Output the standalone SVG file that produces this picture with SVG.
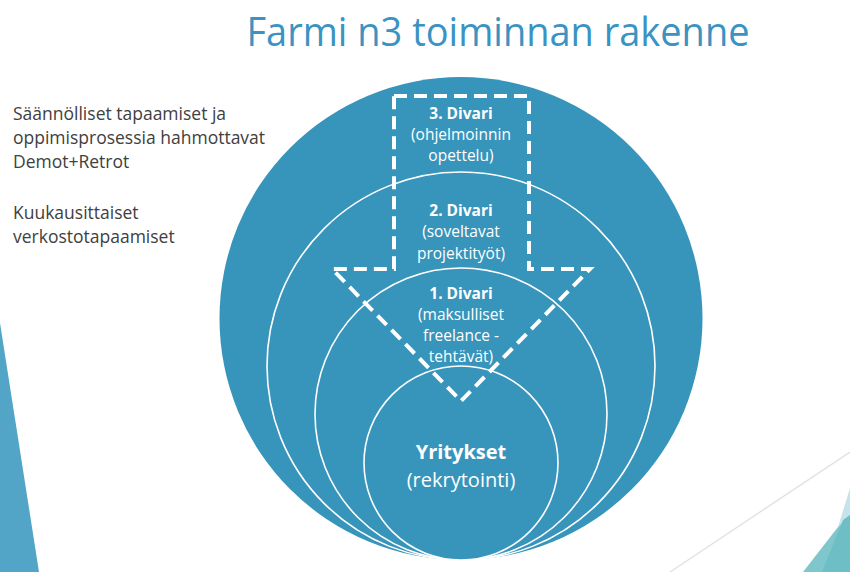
<svg xmlns="http://www.w3.org/2000/svg" width="850" height="572" viewBox="0 0 850 572">
<defs>
<style>
.ring{fill:#3794bb;stroke:#ffffff;stroke-width:1.6}
.lbl{font-family:"Open Sans","Noto Sans","DejaVu Sans",sans-serif;fill:#ffffff;text-anchor:middle;font-size:15.5px}
.b{font-weight:bold}
.big{font-size:20px}
.side{font-family:"Open Sans","Noto Sans","DejaVu Sans",sans-serif;fill:#404040;font-size:17.5px}
.dash{fill:none;stroke:#ffffff;stroke-width:4;stroke-dasharray:13 7}
</style>
</defs>
<rect width="850" height="572" fill="#ffffff"/>
<g id="decor">
<polygon points="0,323 39,572 0,572" fill="#52a5c6"/>
<line x1="670" y1="572" x2="850" y2="452" stroke="#e3e3e3" stroke-width="1.5"/>
<polygon points="850,488 838,527 850,515" fill="#c6e3ec"/>
<polygon points="803,572 838,527 850,515 850,572" fill="#7fc7cd"/>
<polygon points="822,572 843,520 850,515 850,572" fill="#6ebec6"/>
</g>
<g id="title">
<text x="498" y="46" font-family="'Open Sans','Noto Sans',sans-serif" font-size="40" fill="#3a93c2" text-anchor="middle" textLength="503" lengthAdjust="spacingAndGlyphs">Farmi n3 toiminnan rakenne</text>
</g>
<g id="side-notes">
<text class="side" x="13" y="120">Säännölliset tapaamiset ja</text>
<text class="side" x="13" y="144">oppimisprosessia hahmottavat</text>
<text class="side" x="13" y="168">Demot+Retrot</text>
<text class="side" x="13" y="219">Kuukausittaiset</text>
<text class="side" x="13" y="243">verkostotapaamiset</text>
</g>
<g id="divari3">
<circle cx="461" cy="318.5" r="241.5" fill="#3794bb"/>
</g>
<g id="divari2">
<circle class="ring" cx="461" cy="366" r="194"/>
</g>
<g id="divari1">
<circle class="ring" cx="461" cy="414" r="146"/>
</g>
<g id="yritykset">
<circle class="ring" cx="461" cy="463" r="97"/>
</g>
<g id="connectors">
<polygon class="dash" points="394,96 529,96 529,269 590,269 461,401 332,269 394,269"/>
</g>
<g id="labels">
<text class="lbl b" x="461" y="119">3. Divari</text>
<text class="lbl" x="461" y="140">(ohjelmoinnin</text>
<text class="lbl" x="461" y="161">opettelu)</text>
<text class="lbl b" x="461" y="216">2. Divari</text>
<text class="lbl" x="461" y="237">(soveltavat</text>
<text class="lbl" x="461" y="259">projektityöt)</text>
<text class="lbl b" x="461" y="299">1. Divari</text>
<text class="lbl" x="461" y="320">(maksulliset</text>
<text class="lbl" x="461" y="341">freelance -</text>
<text class="lbl" x="461" y="362">tehtävät)</text>
<text class="lbl b big" x="461" y="459">Yritykset</text>
<text class="lbl big" x="461" y="487">(rekrytointi)</text>
</g>
</svg>
